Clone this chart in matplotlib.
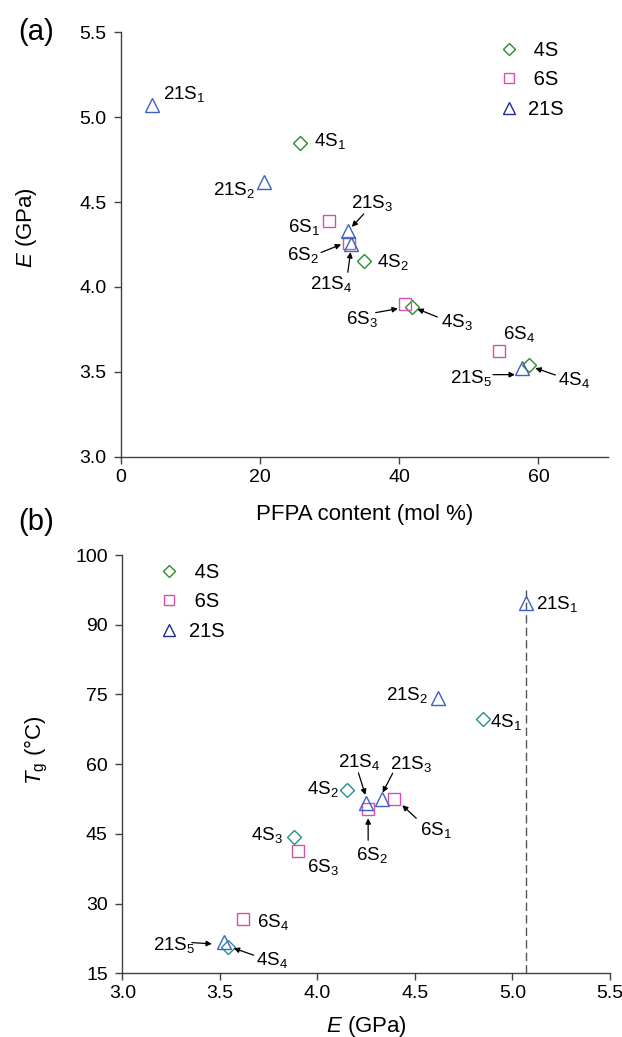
import matplotlib
matplotlib.use('Agg')
import matplotlib.pyplot as plt
import matplotlib.transforms as mtransforms
from matplotlib.lines import Line2D

plt.rcParams['font.family'] = ['Liberation Sans', 'DejaVu Sans']
plt.rcParams['mathtext.fontset'] = 'custom'
plt.rcParams['mathtext.rm'] = 'Liberation Sans'
plt.rcParams['mathtext.it'] = 'Liberation Sans:italic'
plt.rcParams['mathtext.default'] = 'regular'

# values
pfpa_4s = [25.8, 35.0, 41.9, 58.7]
pfpa_6s = [29.9, 32.8, 40.8, 54.4]
pfpa_21s = [4.5, 20.5, 32.6, 33.0, 57.6]

e_4s = [4.85, 4.15, 3.88, 3.54]
e_6s = [4.39, 4.26, 3.90, 3.62]
e_21s = [5.07, 4.62, 4.33, 4.25, 3.52]

tg_4s = [69.7, 54.4, 44.4, 20.7]
tg_6s = [52.6, 50.3, 41.3, 26.7]
tg_21s = [94.6, 74.2, 52.6, 51.6, 21.7]

x_ticks_a = [0, 20, 40, 60]
y_ticks_a = [3.0, 3.5, 4.0, 4.5, 5.0, 5.5]
x_ticks_b = [3.0, 3.5, 4.0, 4.5, 5.0, 5.5]
y_ticks_b = [15, 30, 45, 60, 75, 90, 105]
y_ticklabels_b = ['15', '30', '45', '60', '75', '90', '100']

# styles
c4 = '#2e8b2e'
c4b = '#2a8e90'
c6 = '#d452a8'
c21 = '#3e60c2'
c21_leg = '#1f2c8c'
spine_c = '#404040'

# label layout: (dx, dy, ha, arrow start/end) in points from the marker
lay_a = {
    '4S': [(9.5, -2.7, 'left', None),
           (9.2, -4.3, 'left', None),
           (20.7, -14.2, 'left', ((17.9, -7), (3.5, -1.2))),
           (20.9, -14.4, 'left', ((18.7, -7.2), (4.3, -2.2)))],
    '6S': [(-6.6, -8.4, 'right', None),
           (-21.6, -12.2, 'right', ((-20.2, -7), (-5.8, -1.2))),
           (-19.6, -14.2, 'right', ((-21, -6.3), (-5, -3.4))),
           (2.2, 8.6, 'left', None)],
    '21S': [(8, 4.3, 'left', None),
            (-5.8, -9.4, 'right', None),
            (2.2, 16.3, 'left', ((11.5, 12.2), (2.9, 2.9))),
            (-13.7, -32.2, 'center', ((-2, -20), (0, -5.5))),
            (-21.4, -10.3, 'right', ((-20.7, -4.5), (-4.9, -4.5)))],
}
lay_b = {
    '4S': [(5.2, -5.5, 'left', None),
           (-5.8, -2.9, 'right', None),
           (-8, -2.4, 'right', None),
           (20.2, -13.2, 'left', ((18.7, -6), (4.3, -1)))],
    '6S': [(19.3, -26.4, 'left', ((16.4, -14.2), (6.3, -4.8))),
           (3, -36.7, 'center', ((0, -22.3), (0, -6.5))),
           (6.6, -14.9, 'left', None),
           (9.5, -5.8, 'left', None)],
    '21S': [(7.2, -4.3, 'left', None),
            (-7.2, -1.2, 'right', None),
            (21.2, 21.6, 'center', ((7.8, 18.2), (0.6, 4.3))),
            (-5.2, 26.4, 'center', ((-5.6, 21.8), (-0.6, 6))),
            (-20.9, -5.5, 'right', ((-23, -0.3), (-8.6, -1.2)))],
}

fig = plt.figure(figsize=(6.22, 10.37), dpi=100)
ax_a = fig.add_axes([0.1945, 0.5596, 0.783, 0.4093])
ax_b = fig.add_axes([0.1968, 0.0614, 0.7839, 0.4034])


def pts(ax, dx, dy):
    return mtransforms.offset_copy(ax.transData, fig=fig, x=dx, y=dy, units='points')


def label_points(ax, name, xs, ys, layout):
    for i, (x, y) in enumerate(zip(xs, ys)):
        dx, dy, ha, arrow = layout[i]
        ax.annotate(name + '$_{%d}$' % (i + 1), xy=(x, y), xytext=(dx, dy),
                    textcoords='offset points', ha=ha, va='baseline', fontsize=13.5)
        if arrow is not None:
            (sx, sy), (ex, ey) = arrow
            ax.annotate('', xy=(x, y), xycoords=pts(ax, ex, ey),
                        xytext=(x, y), textcoords=pts(ax, sx, sy),
                        arrowprops=dict(arrowstyle='-|>', color='k', lw=0.9,
                                        mutation_scale=8, shrinkA=0, shrinkB=0))


def style_axes(ax):
    for s in ['top', 'right']:
        ax.spines[s].set_visible(False)
    for s in ['left', 'bottom']:
        ax.spines[s].set_color(spine_c)
        ax.spines[s].set_linewidth(1.0)
    ax.tick_params(axis='both', direction='out', length=5, width=1.0,
                   color=spine_c, labelsize=14)
    ax.tick_params(axis='x', pad=3.5)
    ax.tick_params(axis='y', pad=5.5)


mk = dict(linestyle='none', markerfacecolor='none', markeredgewidth=1.0)

# ---- panel (a)
ax_a.plot(pfpa_4s, e_4s, marker='D', markersize=7, color=c4, **mk)
ax_a.plot(pfpa_6s, e_6s, marker='s', markersize=9, color=c6, **mk)
ax_a.plot(pfpa_21s, e_21s, marker='^', markersize=10.5, color=c21, **mk)
ax_a.set_xlim(0, 70)
ax_a.set_ylim(3.0, 5.5)
ax_a.set_xticks(x_ticks_a)
ax_a.set_yticks(y_ticks_a)
ax_a.set_yticklabels(['%.1f' % v for v in y_ticks_a])
style_axes(ax_a)
ax_a.set_xlabel('PFPA content (mol %)', fontsize=16, va='center')
ax_a.xaxis.set_label_coords(0.501, -0.137)
ax_a.set_ylabel('$\\mathit{E}$ (GPa)', fontsize=16, va='center')
ax_a.yaxis.set_label_coords(-0.193, 0.541)

label_points(ax_a, '4S', pfpa_4s, e_4s, lay_a['4S'])
label_points(ax_a, '6S', pfpa_6s, e_6s, lay_a['6S'])
label_points(ax_a, '21S', pfpa_21s, e_21s, lay_a['21S'])

# ---- panel (b)
ax_b.vlines(e_21s[0], 15, 97.5, colors='#555555', linestyles=(0, (6, 3)), linewidth=1.0)
ax_b.plot(e_4s, tg_4s, marker='D', markersize=7, color=c4b, **mk)
ax_b.plot(e_6s, tg_6s, marker='s', markersize=9, color=c6, **mk)
ax_b.plot(e_21s, tg_21s, marker='^', markersize=10.5, color=c21, **mk)
ax_b.set_xlim(3.0, 5.5)
ax_b.set_ylim(15, 105)
ax_b.set_xticks(x_ticks_b)
ax_b.set_xticklabels(['%.1f' % v for v in x_ticks_b])
ax_b.set_yticks(y_ticks_b)
ax_b.set_yticklabels(y_ticklabels_b)
style_axes(ax_b)
ax_b.set_xlabel('$\\mathit{E}$ (GPa)', fontsize=16, va='center')
ax_b.xaxis.set_label_coords(0.4996, -0.126)
ax_b.set_ylabel('$\\mathit{T}_{g}$ (°C)', fontsize=16, va='center')
ax_b.yaxis.set_label_coords(-0.177, 0.534)

label_points(ax_b, '4S', e_4s, tg_4s, lay_b['4S'])
label_points(ax_b, '6S', e_6s, tg_6s, lay_b['6S'])
label_points(ax_b, '21S', e_21s, tg_21s, lay_b['21S'])

# legends
handles = [Line2D([], [], marker='D', markersize=6, color=c4, **mk),
           Line2D([], [], marker='s', markersize=7.5, color=c6, **mk),
           Line2D([], [], marker='^', markersize=8.5, color=c21_leg, **mk)]
names = [' 4S', ' 6S', '21S']
for ax, (lx, ly) in [(ax_a, (499, 41)), (ax_b, (159.3, 563))]:
    ax.legend(handles, names, loc='upper left',
              bbox_to_anchor=(lx / 622, 1 - ly / 1037), bbox_transform=fig.transFigure,
              frameon=False, borderpad=0, borderaxespad=0, handlelength=1.0,
              handletextpad=0.45, labelspacing=0.52, fontsize=14.5)

fig.text(36 / 622, 1 - 32 / 1037, '(a)', ha='center', va='center', fontsize=21)
fig.text(36 / 622, 1 - 522 / 1037, '(b)', ha='center', va='center', fontsize=21)

fig.savefig('out.png', dpi=100)
